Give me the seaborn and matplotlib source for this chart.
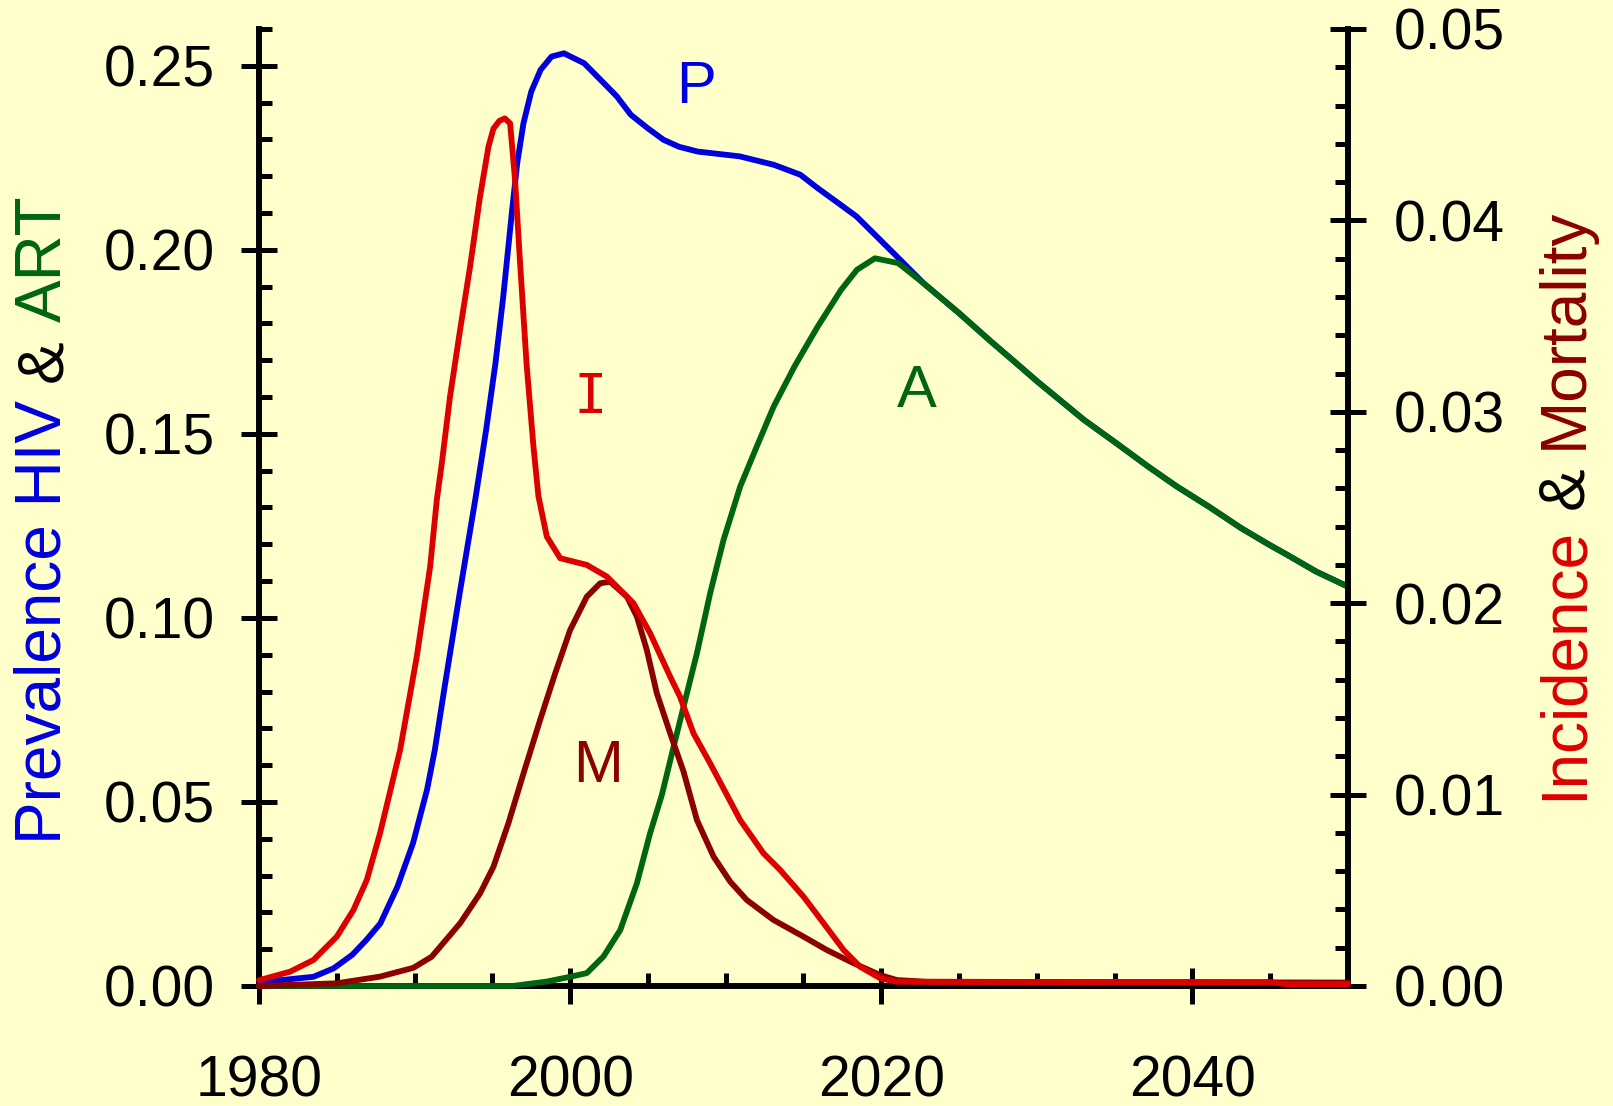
import matplotlib
matplotlib.use("Agg")
import matplotlib.pyplot as plt
import seaborn as sns
from matplotlib.ticker import MultipleLocator, FormatStrFormatter

# ------------------------
# Data
# ------------------------

# P: prevalence of HIV (left axis)
p_years = [1980.0, 1981.4, 1983.5, 1984.8, 1986.0, 1986.9, 1987.8, 1988.9, 1989.9,
           1990.8, 1991.3, 1991.9, 1992.9, 1993.9, 1994.6, 1995.2, 1995.7, 1996.25,
           1996.6, 1997.0, 1997.5, 1998.1, 1998.8, 1999.6, 2000.9, 2002.0, 2003.0,
           2003.9, 2005.0, 2006.0, 2007.0, 2008.2, 2010.9, 2013.1, 2014.8, 2015.9,
           2017.4, 2018.4, 2019.5, 2021.0, 2022.7, 2025.0, 2027.05, 2028.43, 2030.04,
           2033.03, 2035.1, 2037.16, 2039.0, 2041.07, 2043.13, 2044.97, 2046.11,
           2047.95, 2050.0]
p_vals = [0.0005, 0.0016, 0.0025, 0.0048, 0.0085, 0.0125, 0.0170, 0.0270, 0.0388,
          0.0533, 0.0641, 0.0804, 0.1067, 0.1321, 0.1511, 0.1692, 0.1873, 0.2100,
          0.2236, 0.2344, 0.2430, 0.2489, 0.2525, 0.2534, 0.2507, 0.2460, 0.2417,
          0.2367, 0.2330, 0.2299, 0.2280, 0.2267, 0.2254, 0.2231, 0.2204, 0.2168,
          0.2122, 0.2091, 0.2045, 0.1982, 0.1910, 0.1828, 0.1751, 0.1701, 0.1642,
          0.1538, 0.1475, 0.1411, 0.1357, 0.1302, 0.1244, 0.1198, 0.1171,
          0.1126, 0.1085]

# A: on ART (left axis)
a_years = [1980.0, 1996.3, 1998.5, 2000.0, 2001.07, 2002.14, 2003.22, 2004.29, 2005.14,
           2005.9, 2006.65, 2007.29, 2008.15, 2009.0, 2009.86, 2010.4, 2010.93, 2012.0,
           2013.08, 2014.42, 2015.2, 2015.92, 2017.41, 2018.44, 2019.59, 2021.09,
           2022.69, 2025.0, 2027.05, 2028.43, 2030.04, 2033.03, 2035.1, 2037.16,
           2039.0, 2041.07, 2043.13, 2044.97, 2046.11, 2047.95, 2050.0]
a_vals = [0.0, 0.0, 0.0012, 0.0025, 0.0035, 0.0080, 0.0152, 0.0279, 0.0415,
          0.0520, 0.0650, 0.0759, 0.0904, 0.1067, 0.1212, 0.1285, 0.1357, 0.1466,
          0.1574, 0.1683, 0.1740, 0.1792, 0.1891, 0.1946, 0.1977, 0.1964,
          0.1910, 0.1828, 0.1751, 0.1701, 0.1642, 0.1538, 0.1475, 0.1411,
          0.1357, 0.1302, 0.1244, 0.1198, 0.1171, 0.1126, 0.1085]

# I: incidence (right axis)
i_years = [1980.0, 1982.0, 1983.5, 1985.0, 1986.07, 1986.93, 1987.78, 1989.07, 1990.14,
           1991.0, 1991.43, 1991.75, 1992.28, 1992.93, 1993.57, 1994.2, 1994.75,
           1995.07, 1995.45, 1995.8, 1996.14, 1996.46, 1996.78, 1997.2, 1997.64,
           1997.96, 1998.5, 1999.36, 2001.07, 2002.36, 2004.07, 2005.14, 2006.43,
           2007.07, 2007.93, 2009.0, 2010.93, 2012.43, 2013.5, 2015.0, 2016.29,
           2017.58, 2018.65, 2019.94, 2021.0, 2045.0, 2046.0, 2050.0]
i_vals = [0.0003, 0.00075, 0.00136, 0.00258, 0.00397, 0.00554, 0.00798, 0.01233, 0.0172,
          0.0219, 0.0254, 0.0273, 0.0308, 0.0343, 0.0376, 0.0412, 0.04385,
          0.0448, 0.0452, 0.04533, 0.04507, 0.0421, 0.0378, 0.0325, 0.0282,
          0.0256, 0.02348, 0.02235, 0.0220, 0.02139, 0.0200, 0.01843, 0.01616,
          0.0151, 0.0132, 0.01163, 0.00867, 0.00693, 0.00606, 0.00467, 0.00328,
          0.00188, 0.0010, 0.0004, 0.00022, 0.0002, 0.0001, 0.0001]

# M: mortality (right axis)
m_years = [1980.0, 1985.0, 1987.78, 1989.92, 1991.1, 1992.93, 1994.21, 1995.07, 1996.03,
           1997.0, 1998.07, 1999.04, 2000.0, 2001.07, 2001.93, 2002.57, 2003.65,
           2004.29, 2004.93, 2005.57, 2006.43, 2007.29, 2008.15, 2009.22, 2010.29,
           2011.36, 2013.07, 2015.0, 2016.5, 2018.22, 2019.94, 2021.0, 2022.93, 2050.0]
m_vals = [0.0, 0.00014, 0.00049, 0.00095, 0.00153, 0.00328, 0.00484, 0.00623, 0.0085,
          0.0111, 0.0139, 0.01634, 0.0186, 0.02034, 0.02104, 0.02112, 0.02034,
          0.0193, 0.01755, 0.0153, 0.0132, 0.0112, 0.00867, 0.00676, 0.00545,
          0.00449, 0.00345, 0.00258, 0.00188, 0.00119, 0.00057, 0.00031, 0.00022, 0.00018]

BG = "#FFFFCC"
BLUE = "#0000DD"
GREEN = "#006411"
RED = "#DD0000"
DARKRED = "#8B0000"
LW = 4.2

sns.set_theme(style="white")
plt.rcParams["font.family"] = ["Liberation Sans", "DejaVu Sans"]

fig = plt.figure(figsize=(16.13, 11.06), dpi=100, facecolor=BG)
ax = fig.add_axes([0.16057, 0.10850, 0.67514, 0.86528])
ax.set_facecolor(BG)
ax2 = ax.twinx()
ax2.patch.set_visible(False)

# ------------------------
# Lines
# ------------------------
sns.lineplot(x=p_years, y=p_vals, ax=ax, color=BLUE, linewidth=LW, errorbar=None,
             clip_on=False, zorder=3, solid_joinstyle="round")
sns.lineplot(x=a_years, y=a_vals, ax=ax, color=GREEN, linewidth=LW, errorbar=None,
             clip_on=False, zorder=4, solid_joinstyle="round")
sns.lineplot(x=m_years, y=m_vals, ax=ax2, color=DARKRED, linewidth=LW, errorbar=None,
             clip_on=False, zorder=3, solid_joinstyle="round")
sns.lineplot(x=i_years, y=i_vals, ax=ax2, color=RED, linewidth=LW, errorbar=None,
             clip_on=False, zorder=4, solid_joinstyle="round")

# ------------------------
# Axes & ticks
# ------------------------
ax.set_xlim(1980, 2050)
ax.set_ylim(0, 0.26)
ax2.set_ylim(0, 0.05)

ax.xaxis.set_major_locator(MultipleLocator(20))
ax.xaxis.set_minor_locator(MultipleLocator(5))
ax.yaxis.set_major_locator(MultipleLocator(0.05))
ax.yaxis.set_minor_locator(MultipleLocator(0.01))
ax.yaxis.set_major_formatter(FormatStrFormatter("%.2f"))
ax2.yaxis.set_major_locator(MultipleLocator(0.01))
ax2.yaxis.set_minor_locator(MultipleLocator(0.002))
ax2.yaxis.set_major_formatter(FormatStrFormatter("%.2f"))

for a in (ax, ax2):
    a.tick_params(which="major", direction="inout", length=26, width=3.6,
                  color="black", labelsize=41, labelcolor="black")
    a.tick_params(which="minor", direction="in", length=9.5, width=3.6, color="black")
    a.set_xlabel("")
    a.set_ylabel("")

ax.tick_params(which="both", left=True, bottom=True, right=False, top=False)
ax.tick_params(axis="x", which="major", pad=36)
ax.tick_params(axis="y", which="major", pad=19)
ax2.tick_params(which="both", right=True, left=False, bottom=False, top=False)
ax2.tick_params(axis="y", which="major", pad=20)

for name, sp in ax.spines.items():
    sp.set_visible(name in ("left", "bottom"))
    sp.set_color("black")
    sp.set_linewidth(4.3)
for name, sp in ax2.spines.items():
    sp.set_visible(name == "right")
    sp.set_color("black")
    sp.set_linewidth(4.3)

# ------------------------
# Curve labels
# ------------------------
ax.text(2008.1, 0.2400, "P", color=BLUE, fontsize=43, ha="center", va="baseline")
ax.text(2022.3, 0.1574, "A", color=GREEN, fontsize=43, ha="center", va="baseline")
ax.text(2001.3, 0.1557, "I", color=RED, fontsize=40, ha="center", va="baseline",
        family=["DejaVu Sans Mono"])
ax.text(2001.8, 0.0555, "M", color=DARKRED, fontsize=43, ha="center", va="baseline")


# ------------------------
# Multi-coloured axis titles
# ------------------------
def stacked_label(x, y_center, parts, size):
    renderer = fig.canvas.get_renderer()
    texts = [fig.text(x, 0, s, color=c, fontsize=size, rotation=90,
                      rotation_mode="anchor", ha="left", va="baseline")
             for s, c in parts]
    widths = [t.get_window_extent(renderer).height / fig.bbox.height for t in texts]
    gap = 0.278 * size * fig.dpi / 72 / fig.bbox.height
    total = sum(widths) + gap * (len(parts) - 1)
    y = y_center - total / 2
    for t, w in zip(texts, widths):
        t.set_y(y)
        y += w + gap


stacked_label(0.0378, 0.5303,
              [("Prevalence HIV", BLUE), ("&", "black"), ("ART", GREEN)], 46)
stacked_label(0.9808, 0.5443,
              [("Incidence", RED), ("&", "black"), ("Mortality", DARKRED)], 46)

fig.savefig("out.png", dpi=100, facecolor=BG)
